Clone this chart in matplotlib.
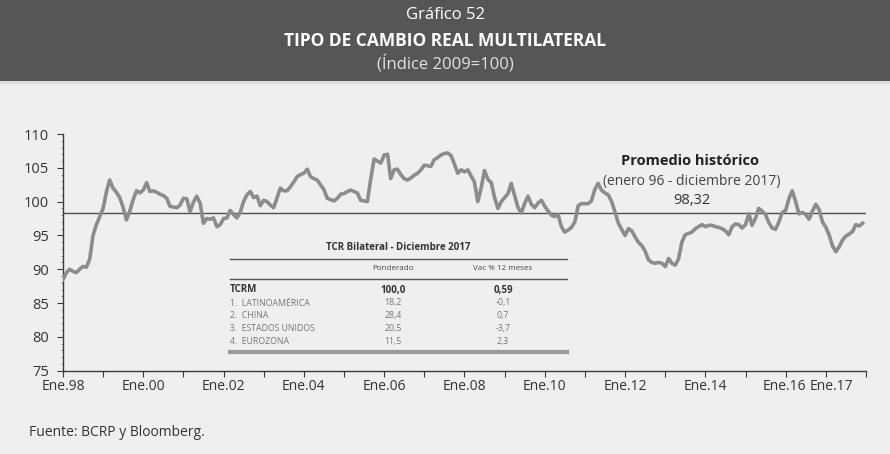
import numpy as np
import pandas as pd
import matplotlib
matplotlib.use('Agg')
import matplotlib.pyplot as plt
from matplotlib.lines import Line2D
from matplotlib.patches import Rectangle
from matplotlib.ticker import MultipleLocator
from matplotlib.transforms import ScaledTranslation

# Monthly TCRM index (2009=100), Jan 1998 - Dec 2017
tcrm_1998_2002 = [
    88.5, 89.5, 90.0, 89.7, 89.5, 90.0, 90.4, 90.3, 91.5, 95.0, 96.6, 97.8,
    99.0, 101.5, 103.2, 102.0, 101.4, 100.6, 99.2, 97.3, 98.6, 100.3, 101.6, 101.3,
    101.7, 102.8, 101.5, 101.6, 101.4, 101.1, 100.9, 100.5, 99.3, 99.2, 99.1, 99.5,
    100.5, 100.4, 98.5, 99.9, 100.8, 99.8, 96.8, 97.5, 97.4, 97.6, 96.3, 96.6,
    97.5, 97.6, 98.7, 98.1, 97.6, 98.4, 100.0, 101.0, 101.5, 100.6, 100.8, 99.4,
]
tcrm_2003_2007 = [
    100.2, 100.0, 99.5, 99.1, 100.5, 102.0, 101.6, 101.6, 102.2, 102.9, 103.7, 104.0,
    104.2, 104.8, 103.7, 103.4, 103.2, 102.5, 101.8, 100.5, 100.3, 100.1, 100.5, 101.1,
    101.2, 101.5, 101.7, 101.5, 101.3, 100.2, 100.1, 100.0, 103.4, 106.3, 106.0, 105.7,
    106.9, 107.0, 103.4, 104.7, 104.8, 104.0, 103.4, 103.2, 103.5, 103.9, 104.2, 104.7,
    105.4, 105.3, 105.2, 106.2, 106.5, 106.9, 107.1, 107.2, 106.8, 105.6, 104.2, 104.7,
]
tcrm_2008_2012 = [
    104.4, 104.7, 103.8, 102.9, 100.0, 102.0, 104.6, 103.3, 102.8, 100.6, 99.0, 100.0,
    100.6, 101.2, 102.7, 100.9, 99.2, 98.3, 99.7, 100.8, 99.6, 99.1, 99.8, 100.2,
    99.3, 98.6, 98.0, 97.8, 98.1, 96.3, 95.5, 95.8, 96.2, 97.0, 99.4, 99.7,
    99.7, 99.7, 100.1, 101.8, 102.7, 101.7, 101.3, 101.0, 100.0, 98.5, 96.8, 95.9,
    95.0, 96.0, 95.7, 94.8, 94.0, 93.5, 92.7, 91.4, 91.0, 90.9, 91.0, 90.9,
]
tcrm_2013_2017 = [
    90.4, 91.6, 90.9, 90.6, 91.5, 94.0, 95.1, 95.3, 95.5, 96.0, 96.3, 96.6,
    96.3, 96.5, 96.5, 96.3, 96.2, 96.0, 95.7, 95.1, 96.3, 96.7, 96.6, 96.1,
    96.6, 98.2, 96.5, 97.5, 99.0, 98.6, 98.1, 96.9, 96.1, 95.9, 97.0, 98.4,
    98.7, 100.5, 101.6, 100.0, 98.2, 98.4, 98.1, 97.4, 98.6, 99.6, 98.8, 97.0,
    96.2, 95.0, 93.5, 92.6, 93.3, 94.3, 94.9, 95.2, 95.6, 96.6, 96.4, 96.8,
]
tcrm = tcrm_1998_2002 + tcrm_2003_2007 + tcrm_2008_2012 + tcrm_2013_2017
dates = pd.date_range('1998-01-01', periods=len(tcrm), freq='MS')
promedio = 98.32

label_years = [1998, 2000, 2002, 2004, 2006, 2008, 2010, 2012, 2014, 2016, 2017]

# inset table
tabla_titulo = 'TCR Bilateral - Diciembre 2017'
tabla_cols = ['Ponderado', 'Vac % 12 meses']
tabla_total = ['TCRM', '100,0', '0,59']
tabla_paises = ['1.  LATINOAMÉRICA', '2.  CHINA', '3.  ESTADOS UNIDOS', '4.  EUROZONA']
tabla_pond = ['18,2', '28,4', '20,5', '11,5']
tabla_var = ['-0,1', '0,7', '-3,7', '2,3']

W, H = 890, 454
plt.rcParams['font.family'] = ['Open Sans', 'DejaVu Sans']

fig = plt.figure(figsize=(W / 100, H / 100), dpi=100, facecolor='#efefef')


def fx(x):
    return x / W


def fy(y):
    return 1 - y / H


# header band
fig.patches.append(Rectangle((0, fy(81)), 1, 81 / H, transform=fig.transFigure,
                             facecolor='#565656', edgecolor='none', zorder=0))
fig.patches.append(Rectangle((0, fy(84)), 1, 3 / H, transform=fig.transFigure,
                             facecolor='#dcdcdc', edgecolor='none', zorder=0))
fig.text(0.5, fy(15), 'Gráfico 52', ha='center', va='center', color='white', fontsize=12)
fig.text(0.5, fy(41), 'TIPO DE CAMBIO REAL MULTILATERAL', ha='center', va='center',
         color='white', fontsize=12.5, fontweight='bold')
fig.text(0.5, fy(65), '(Índice 2009=100)', ha='center', va='center', color='#e2e2e2', fontsize=12)

# main chart
ax = fig.add_axes([fx(63), fy(370.7), fx(866) - fx(63), fy(134) - fy(370.7)])
ax.set_facecolor('none')
ax.plot(dates, tcrm, color='#8c8c8c', lw=2.6, solid_joinstyle='round', zorder=3)
ax.axhline(promedio, color='#4f4f4f', lw=1.0, zorder=2)

ax.set_ylim(75, 110)
ax.set_xlim(pd.Timestamp('1998-01-01'), pd.Timestamp('2018-01-01'))
for s in ['top', 'right']:
    ax.spines[s].set_visible(False)
for s in ['left', 'bottom']:
    ax.spines[s].set_color('#3a3a3a')
    ax.spines[s].set_linewidth(1.0)

ax.yaxis.set_major_locator(MultipleLocator(5))
ax.yaxis.set_minor_locator(MultipleLocator(1))
ax.tick_params(axis='y', which='major', length=4, color='#3a3a3a', labelsize=10.5,
               labelcolor='#333333', pad=6)
ax.tick_params(axis='y', which='minor', length=1.5, color='#777777')

years = pd.date_range('1998-01-01', '2018-01-01', freq='YS')
ax.set_xticks(years)
ax.set_xticklabels(['Ene.%02d' % (d.year % 100) if d.year in label_years else '' for d in years])
ax.tick_params(axis='x', length=4, color='#3a3a3a', labelsize=10, labelcolor='#333333', pad=2)
for lab in ax.get_xticklabels():
    if lab.get_text() == 'Ene.17':
        lab.set_transform(lab.get_transform() + ScaledTranslation(0.06, 0, fig.dpi_scale_trans))
    elif lab.get_text() == 'Ene.16':
        lab.set_transform(lab.get_transform() + ScaledTranslation(-0.01, 0, fig.dpi_scale_trans))

# average annotation
fig.text(fx(690), fy(161), 'Promedio histórico', ha='center', va='center',
         fontsize=10.5, fontweight='bold', color='#222222')
fig.text(fx(692), fy(182), '(enero 96 - diciembre 2017)', ha='center', va='center',
         fontsize=10, color='#444444')
fig.text(fx(692), fy(200), '98,32', ha='center', va='center', fontsize=10.5, color='#333333')

# inset table
x0, x1 = 230, 567
c1, c2 = 393, 503
fig.text(fx(398), fy(248), tabla_titulo, ha='center', va='center', fontsize=7,
         fontweight='bold', color='#333333')
for yy, lw, col in [(259, 1.0, '#555555'), (279, 1.0, '#555555'), (352, 3.0, '#999999')]:
    fig.lines.append(Line2D([fx(x0), fx(x1)], [fy(yy), fy(yy)], transform=fig.transFigure,
                            color=col, lw=lw))
fig.text(fx(c1), fy(269), tabla_cols[0], ha='center', va='center', fontsize=5.8, color='#444444')
fig.text(fx(c2), fy(269), tabla_cols[1], ha='center', va='center', fontsize=5.8, color='#444444')
fig.text(fx(x0), fy(290), tabla_total[0], ha='left', va='center', fontsize=7,
         fontweight='bold', color='#333333')
fig.text(fx(c1), fy(290), tabla_total[1], ha='center', va='center', fontsize=7,
         fontweight='bold', color='#333333')
fig.text(fx(c2), fy(290), tabla_total[2], ha='center', va='center', fontsize=7,
         fontweight='bold', color='#333333')
for i, (pais, pond, var) in enumerate(zip(tabla_paises, tabla_pond, tabla_var)):
    yy = 303 + i * 12.7
    fig.text(fx(x0), fy(yy), pais, ha='left', va='center', fontsize=6.3, color='#777777')
    fig.text(fx(c1), fy(yy), pond, ha='center', va='center', fontsize=6.3, color='#777777')
    fig.text(fx(c2), fy(yy), var, ha='center', va='center', fontsize=6.3, color='#777777')

fig.text(fx(29), fy(433), 'Fuente: BCRP y Bloomberg.', ha='left', va='center',
         fontsize=10, color='#333333')

fig.savefig('out.png', dpi=100, facecolor=fig.get_facecolor())
